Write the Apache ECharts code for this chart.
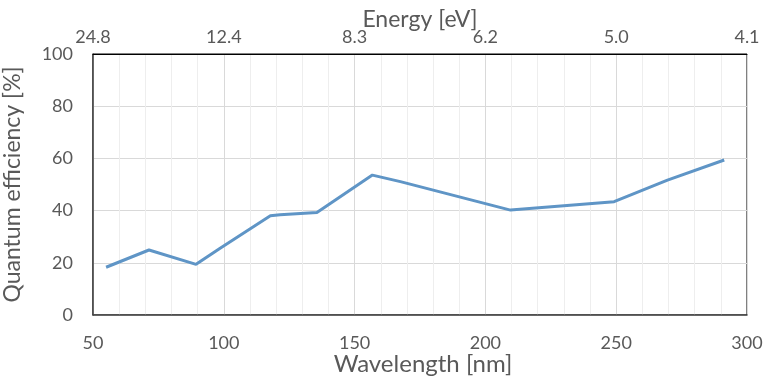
<!DOCTYPE html>
<html>
<head>
<meta charset="utf-8">
<script src="https://cdn.jsdelivr.net/npm/echarts@6/dist/echarts.min.js"></script>
<style>html,body{margin:0;padding:0;background:#fff}#c{width:781px;height:380px}</style>
</head>
<body>
<div id="c"></div>
<script>
const wavelength = [55.0, 71.4, 89.4, 98.6, 117.8, 121.5, 135.6, 156.8, 167.5, 209.6, 249.2, 269.6, 291.3];
const efficiency = [18.3, 24.9, 19.4, 25.6, 38.0, 38.4, 39.3, 53.6, 51.1, 40.2, 43.4, 51.7, 59.4];
const energyLabels = ['24.8', '12.4', '8.3', '6.2', '5.0', '4.1'];
const yTicks = [0, 20, 40, 60, 80, 100];

const font = 'Lato, "Open Sans", sans-serif';
const chart = echarts.init(document.getElementById('c'), null, {renderer: 'canvas'});
chart.setOption({
  animation: false,
  grid: {left: 93, right: 34, top: 54, bottom: 65, show: true, borderColor: '#000', borderWidth: 1,
    containLabel: false, outerBoundsMode: 'none'},
  xAxis: [{
    type: 'value', min: 50, max: 300, interval: 50, position: 'bottom',
    name: 'Wavelength [nm]', nameLocation: 'middle', nameGap: 37, nameMoveOverlap: false,
    nameTextStyle: {fontFamily: font, fontSize: 24, color: '#595959', padding: [0, 0, 0, 6]},
    axisLine: {show: true, lineStyle: {color: '#404040', width: 1.5}},
    axisTick: {show: false},
    axisLabel: {fontFamily: font, fontSize: 18, color: '#595959', margin: 19},
    splitLine: {show: true, lineStyle: {color: '#d9d9d9', width: 1}},
    minorTick: {show: false, splitNumber: 5},
    minorSplitLine: {show: true, lineStyle: {color: '#eeeeee', width: 1}}
  }, {
    type: 'value', min: 50, max: 300, interval: 50, position: 'top',
    name: 'Energy [eV]', nameLocation: 'middle', nameGap: 23, nameMoveOverlap: false,
    nameTextStyle: {fontFamily: font, fontSize: 23, color: '#595959'},
    axisLine: {show: true, lineStyle: {color: '#000', width: 1}},
    axisTick: {show: false},
    axisLabel: {fontFamily: font, fontSize: 18, color: '#595959', margin: 8,
      formatter: v => energyLabels[Math.round((v - 50) / 50)]},
    splitLine: {show: false}
  }],
  yAxis: {
    type: 'value', min: yTicks[0], max: yTicks[yTicks.length - 1], interval: 20,
    name: 'Quantum efficiency [%]', nameLocation: 'middle', nameGap: 69, nameMoveOverlap: false,
    nameTextStyle: {fontFamily: font, fontSize: 23, color: '#595959'},
    axisLine: {show: true, lineStyle: {color: '#404040', width: 1.5}},
    axisTick: {show: false},
    axisLabel: {fontFamily: font, fontSize: 18, color: '#595959', margin: 20},
    splitLine: {show: true, lineStyle: {color: '#d9d9d9', width: 1}}
  },
  series: [{
    type: 'line',
    xAxisIndex: 0,
    data: wavelength.map((w, i) => [w, efficiency[i]]),
    showSymbol: false,
    lineStyle: {color: '#5f95c6', width: 3},
    itemStyle: {color: '#5f95c6'}
  }]
});
</script>
</body>
</html>
